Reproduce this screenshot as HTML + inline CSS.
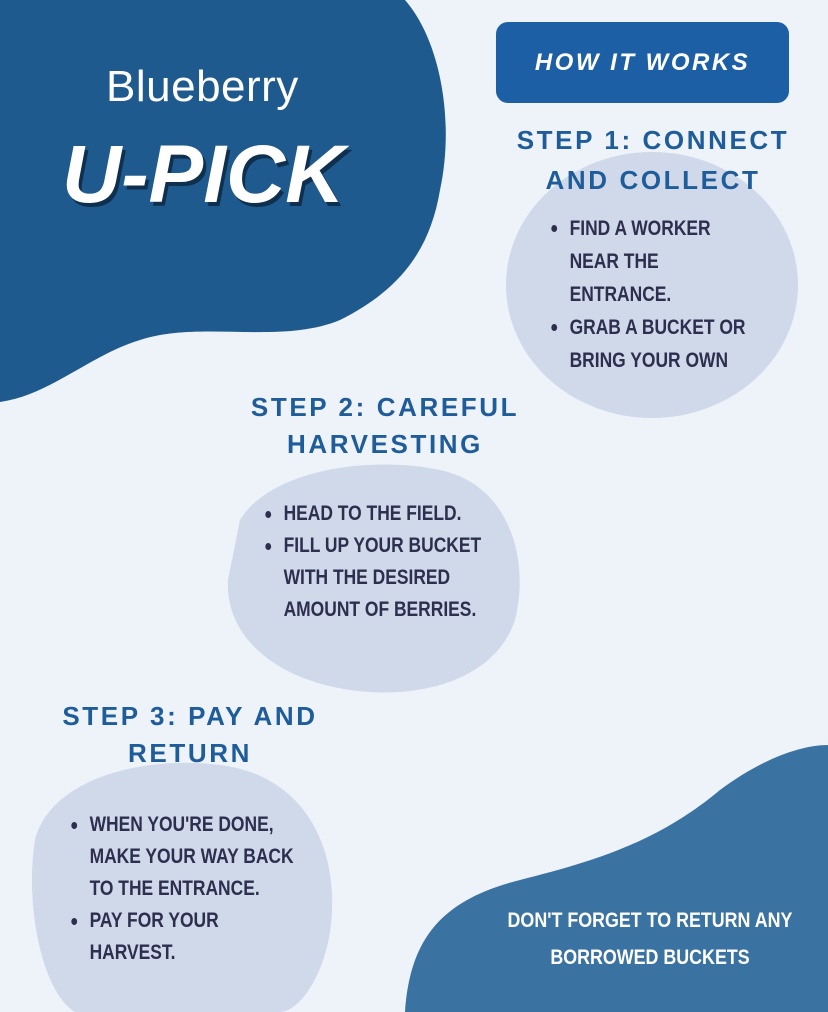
<!DOCTYPE html>
<html><head><meta charset="utf-8"><style>
html,body{margin:0;padding:0}
body{width:828px;height:1012px;position:relative;overflow:hidden;background:#eef3fa;font-family:"Liberation Sans",sans-serif}
svg{position:absolute;left:0;top:0}
.t{position:absolute;white-space:nowrap}
.h{color:#1f5c9a;font-weight:bold;font-size:26px;letter-spacing:2.6px;text-align:center}
.b{font-weight:bold;color:#2e2e4e;font-size:21px;line-height:33px;transform:scaleX(0.83);transform-origin:0 0}
.b div{position:relative;padding-left:26px}
.b div.d:before{content:"";position:absolute;left:4px;top:13px;width:7px;height:7px;border-radius:50%;background:#2e2e4e}
</style></head><body>
<svg width="828" height="1012">
<path d="M0 0 L405 0 C440 40 455 120 440 190 C430 250 400 290 340 320 C280 345 200 320 140 340 C90 355 50 395 0 402 Z" fill="#1f5a8e"/>
<ellipse cx="652" cy="285" rx="146" ry="133" fill="#cfd9ea"/>
<path d="M240 520 C270 470 370 455 440 470 C510 485 530 560 515 620 C495 680 420 700 350 690 C280 680 225 640 228 580 Z" fill="#cfd9ea"/>
<path d="M35 840 C50 780 140 755 220 765 C300 775 335 840 332 910 C330 970 300 1012 280 1012 L75 1012 C40 990 25 900 35 840 Z" fill="#cfd9ea"/>
<path d="M405 1012 C410 940 440 900 520 880 C600 860 660 840 720 790 C760 760 800 745 828 745 L828 1012 Z" fill="#3a72a2"/>
<rect x="496" y="22" width="293" height="81" rx="12" fill="#1d5fa4"/>
</svg>
<div class="t" style="left:496px;top:49px;width:293px;text-align:center;color:#fff;font-weight:bold;font-style:italic;font-size:24px;letter-spacing:2.5px">HOW IT WORKS</div>
<div class="t" style="left:106px;top:62px;color:#fff;font-size:44px;letter-spacing:0.5px">Blueberry</div>
<div class="t" style="left:62px;top:128px;color:#fff;font-weight:bold;font-style:italic;font-size:82px;letter-spacing:0px;text-shadow:3px 4px 0 #0f2f4f">U-PICK</div>
<div class="t h" style="left:498px;top:120px;width:310px;line-height:40px">STEP 1: CONNECT<br>AND COLLECT</div>
<div class="t b" style="left:548px;top:212px"><div class="d">FIND A WORKER</div><div>NEAR THE</div><div>ENTRANCE.</div><div class="d">GRAB A BUCKET OR</div><div>BRING YOUR OWN</div></div>
<div class="t h" style="left:230px;top:389px;width:310px;line-height:37px">STEP 2: CAREFUL<br>HARVESTING</div>
<div class="t b" style="left:262px;top:498px;line-height:32px"><div class="d">HEAD TO THE FIELD.</div><div class="d">FILL UP YOUR BUCKET</div><div>WITH THE DESIRED</div><div>AMOUNT OF BERRIES.</div></div>
<div class="t h" style="left:40px;top:698px;width:300px;line-height:37px">STEP 3: PAY AND<br>RETURN</div>
<div class="t b" style="left:68px;top:809px;line-height:32px"><div class="d">WHEN YOU'RE DONE,</div><div>MAKE YOUR WAY BACK</div><div>TO THE ENTRANCE.</div><div class="d">PAY FOR YOUR</div><div>HARVEST.</div></div>
<div class="t" style="left:480px;top:902px;width:340px;text-align:center;font-weight:bold;color:#fff;font-size:21px;line-height:37px;transform:scaleX(0.85);transform-origin:170px 0">DON'T FORGET TO RETURN ANY<br>BORROWED BUCKETS</div>
</body></html>
